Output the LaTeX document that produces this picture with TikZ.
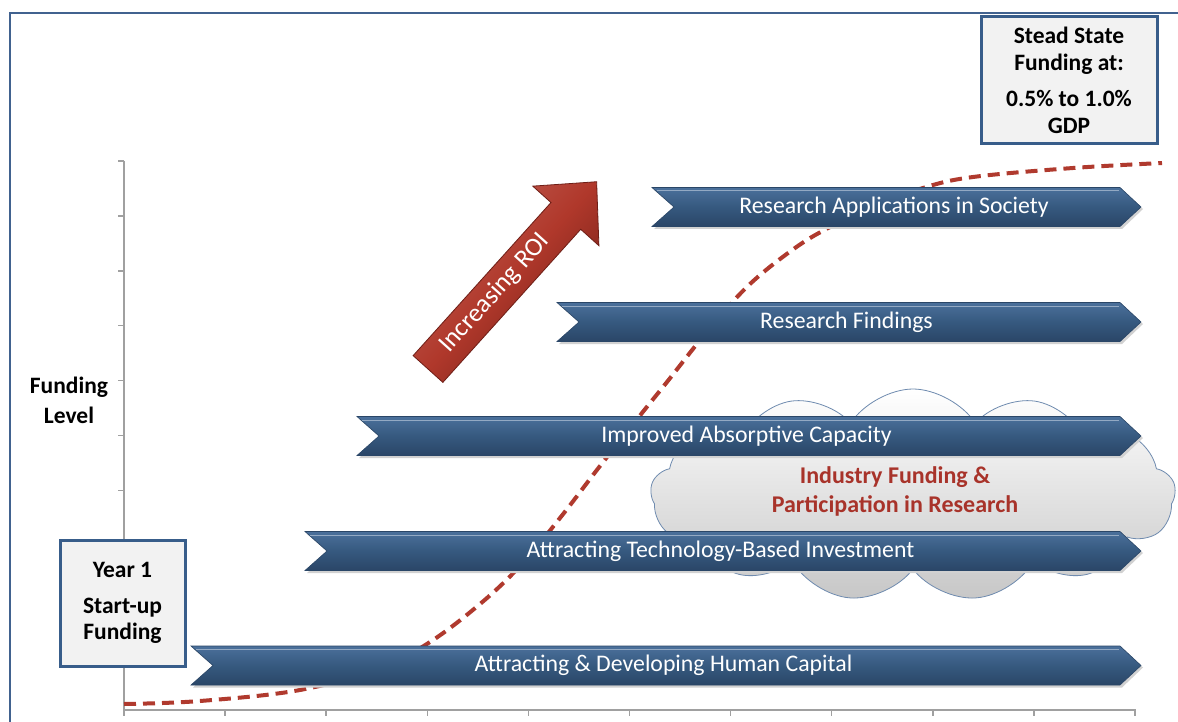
\documentclass[tikz,border=0pt]{standalone}
\usepackage{fontspec}
\setmainfont{Carlito}
\usetikzlibrary{shapes.symbols}
\definecolor{framecol}{HTML}{41628F}
\definecolor{axiscol}{HTML}{A0A0A0}
\definecolor{bantop}{HTML}{4B709B}
\definecolor{banmid}{HTML}{36597F}
\definecolor{banbot}{HTML}{2A4667}
\definecolor{curvecol}{HTML}{B03A2E}
\definecolor{boxline}{HTML}{385D8A}
\definecolor{boxfill}{HTML}{F2F2F2}
\definecolor{cloudline}{HTML}{6F8BAF}
\definecolor{redtext}{HTML}{A8332A}
\definecolor{arrowred}{HTML}{B0382B}
\definecolor{arrowdark}{HTML}{6E1E16}
\tikzset{
  bannershape/.style={top color=bantop, bottom color=banbot, middle color=banmid, draw=banbot, line width=0.6pt},
  bannershadow/.style={fill=black!18},
  bannertext/.style={text=white, font=\fontsize{23.8}{26}\selectfont, inner sep=0pt},
  infobox/.style={draw=boxline, line width=3pt, fill=boxfill, align=center, inner sep=0pt, font=\bfseries\fontsize{23.5}{26.5}\selectfont},
  ticks/.style={axiscol, line width=1.5pt},
  sidelabel/.style={align=center, font=\bfseries\fontsize{23.5}{30}\selectfont, inner sep=0pt}
}
\newcommand{\mybanner}[4]{%
  \fill[bannershadow] (#2+2,#3-17) -- (1122,#3-17) -- (1143,#3+2) -- (1122,#3+22) -- (#2+2,#3+22) -- (#2+24,#3+2) -- cycle;
  \path[bannershape] (#2,#3-19.5) -- (1120,#3-19.5) -- (1141,#3) -- (1120,#3+19.5) -- (#2,#3+19.5) -- (#2+22,#3) -- cycle;
  \draw[white!40!bantop, line width=1pt] (#2+5,#3-16) -- (1119,#3-16);
  \node[bannertext] (#1) at ({(#2+22+1120)/2-3},#3) {#4};
}
\begin{document}
\begin{tikzpicture}[x=1pt,y=-1pt]
\useasboundingbox (0,0) rectangle (1178,722);
\fill[white] (0,0) rectangle (1178,722);
% frame
\draw[framecol, line width=2.5pt] (10,724) -- (10,13) -- (1180,13);
% axes
\draw[ticks] (124,161) -- (124,710) -- (1136,710);
\foreach \i in {0,...,9} \draw[ticks] (118,161+54.9*\i) -- (124,161+54.9*\i);
\foreach \i in {0,...,10} \draw[ticks] (124+101.1*\i,710) -- (124+101.1*\i,716);
% cloud
\node[cloud, cloud puffs=13, cloud puff arc=115, aspect=2.4, draw=cloudline, line width=0.8pt,
      top color=white, bottom color=black!22, minimum width=525, minimum height=212, inner sep=0pt]
      (cloud) at (913,495) {};
\node[font=\bfseries\fontsize{24}{29}\selectfont, text=redtext, align=center] (industry) at (895,491)
  {Industry Funding \&\\Participation in Research};
% dashed curve
\draw[curvecol, line width=4pt, dash pattern=on 12pt off 7pt] plot[smooth, tension=0.6] coordinates
 {(124,704) (200,701) (300,690) (380,668) (430,642) (480,604) (520,566) (560,518) (600,466) (642,413) (667,382) (710,328) (750,284) (795,248) (830,227) (870,208) (923,188) (973,177) (1073,168) (1162,163)};
% banners
\mybanner{b1}{191}{665.5}{Attracting \& Developing Human Capital}
\mybanner{b2}{305}{551}{Attracting Technology-Based Investment}
\mybanner{b3}{357}{436}{Improved Absorptive Capacity}
\mybanner{b4}{557}{322}{Research Findings}
\mybanner{b5}{652}{207}{Research Applications in Society}
% ROI arrow
\begin{scope}[shift={(428,369)}, rotate=48]
  \path[top color=arrowred!80!white, bottom color=arrowdark, middle color=arrowred, shading angle=48, draw=arrowdark, line width=0.8pt]
    (0,-20) -- (206,-20) -- (206,-44.5) -- (252,0) -- (206,44.5) -- (206,20) -- (0,20) -- cycle;
  \node[transform shape, text=white, font=\fontsize{26}{28}\selectfont, inner sep=0pt] (roi) at (101,-1) {Increasing ROI};
\end{scope}
% boxes
\node[infobox, minimum width=125, minimum height=126] (year1) at (122.5,603) {Year 1\\[9pt]Start-up\\Funding};
\node[infobox, minimum width=176, minimum height=127] (stead) at (1069,80.5) {Stead State\\Funding at:\\[10pt]0.5\% to 1.0\%\\GDP};
\node[sidelabel] (flevel) at (69,400) {Funding\\Level};
\end{tikzpicture}
\end{document}
